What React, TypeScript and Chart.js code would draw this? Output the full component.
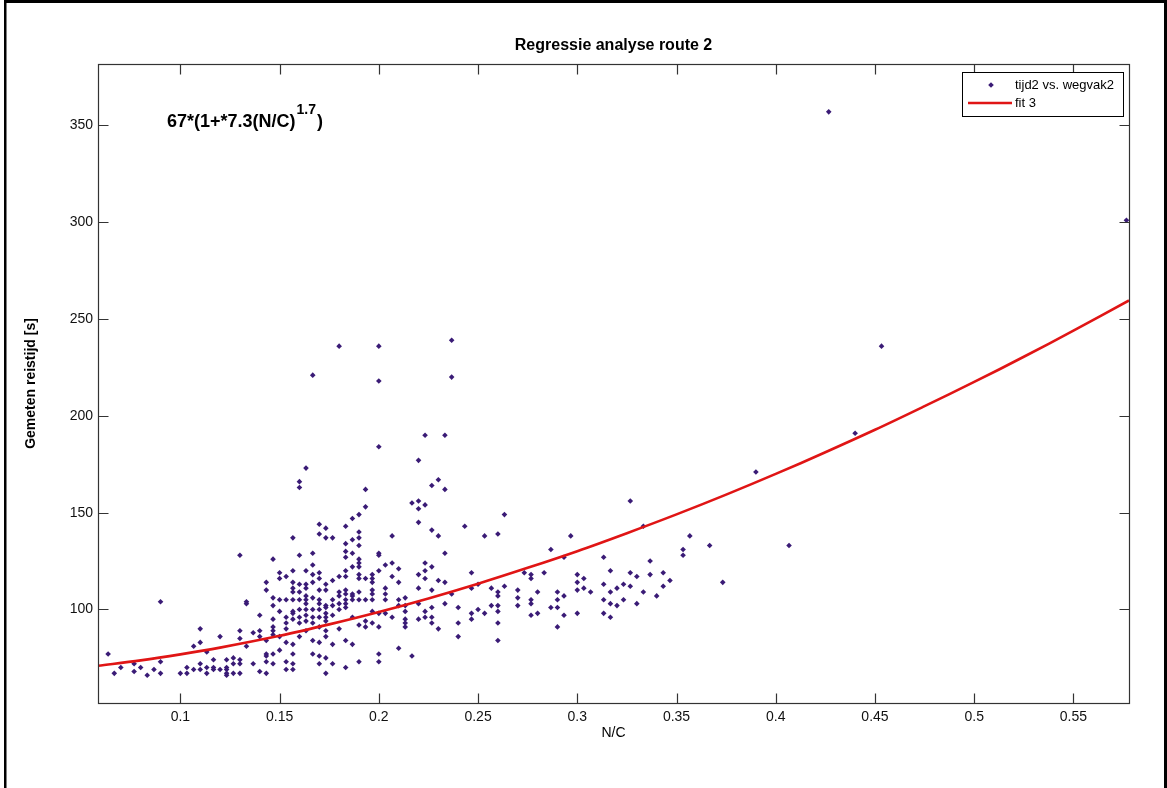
import React, { useEffect, useRef } from "react";
import { Chart, registerables } from "chart.js";

Chart.register(...registerables);

const FONT = '"Liberation Sans", Arial, Helvetica, sans-serif';

const TITLE = "Regressie analyse route 2";
const X_LABEL = "N/C";
const Y_LABEL = "Gemeten reistijd [s]";
const SERIES_LABEL = "tijd2 vs. wegvak2";
const FIT_LABEL = "fit 3";
const FORMULA_MAIN = "67*(1+*7.3(N/C)";
const FORMULA_EXP = "1.7";
const FORMULA_END = ")";

const X_MIN = 0.0585;
const X_MAX = 0.578;
const Y_MIN = 51.7;
const Y_MAX = 381.7;

const X_TICKS = [0.1, 0.15, 0.2, 0.25, 0.3, 0.35, 0.4, 0.45, 0.5, 0.55];
const X_TICK_LABELS = ["0.1", "0.15", "0.2", "0.25", "0.3", "0.35", "0.4", "0.45", "0.5", "0.55"];
const Y_TICKS = [100, 150, 200, 250, 300, 350];
const Y_TICK_LABELS = ["100", "150", "200", "250", "300", "350"];

// measured N/C values (columns) and the travel times measured at each of them
const NC_COLUMNS = [
  0.0636, 0.0667, 0.07, 0.0767, 0.08, 0.0833, 0.0867, 0.09, 0.1, 0.1033,
  0.1067, 0.11, 0.1133, 0.1167, 0.12, 0.1233, 0.1267, 0.13, 0.1333, 0.1367,
  0.14, 0.1433, 0.1467, 0.15, 0.1533, 0.1567, 0.16, 0.1633, 0.1667, 0.17,
  0.1733, 0.1767, 0.18, 0.1833, 0.1867, 0.19, 0.1933, 0.1967, 0.2, 0.2033,
  0.2067, 0.21, 0.2133, 0.2167, 0.22, 0.2233, 0.2267, 0.23, 0.2333, 0.2367,
  0.24, 0.2433, 0.2467, 0.25, 0.2533, 0.2567, 0.26, 0.2633, 0.27, 0.2733,
  0.2767, 0.28, 0.2833, 0.2867, 0.29, 0.2933, 0.2967, 0.3, 0.3033, 0.3067,
  0.3133, 0.3167, 0.32, 0.3233, 0.3267, 0.33, 0.3333, 0.3367, 0.34, 0.3433,
  0.3467, 0.3533, 0.3567, 0.3667, 0.3733, 0.39, 0.4067, 0.4267, 0.44, 0.4533,
  0.5767,
];

const TIJD_COLUMNS = [
  [77], [67], [70], [72, 68], [70], [66], [69], [104, 73, 67], [67], [70, 67],
  [81, 69], [90, 83, 72, 69], [78, 70, 67], [74, 70, 69], [86, 69], [74, 70, 69, 67, 66], [75, 72, 67], [128, 89, 85, 74, 72, 67], [104, 103, 81], [88, 72],
  [97, 89, 86, 68], [114, 110, 84, 77, 76, 73, 67], [126, 106, 102, 95, 91, 89, 87, 77, 72], [119, 116, 105, 99, 86, 79], [117, 105, 96, 93, 90, 83, 73, 69],
  [137, 120, 114, 111, 109, 105, 99, 98, 95, 82, 77, 72, 69],
  [166, 163, 128, 113, 109, 105, 100, 96, 93, 86],
  [173, 120, 113, 111, 107, 105, 103, 100, 97, 94, 89],
  [221, 129, 123, 118, 114, 106, 100, 96, 93, 84, 77],
  [144, 139, 119, 116, 110, 105, 103, 100, 96, 91, 83, 76, 72],
  [142, 137, 113, 110, 102, 101, 98, 96, 94, 89, 86, 75, 67],
  [137, 115, 105, 102, 97, 82, 72],
  [236, 117, 109, 107, 103, 100, 90],
  [143, 134, 130, 127, 120, 117, 110, 108, 105, 103, 101, 84, 70],
  [147, 136, 129, 122, 108, 107, 105, 96, 82],
  [149, 140, 137, 133, 126, 124, 122, 118, 116, 109, 105, 92, 73],
  [162, 153, 116, 105, 94, 91],
  [118, 116, 114, 110, 108, 105, 99, 93],
  [236, 218, 184, 129, 128, 120, 98, 91, 77, 73],
  [123, 111, 108, 105, 98],
  [138, 124, 117, 96],
  [121, 114, 105, 102, 80],
  [106, 102, 99, 95, 93, 91],
  [155, 76],
  [177, 156, 152, 145, 118, 111, 103, 95],
  [190, 154, 124, 120, 116, 99, 96],
  [164, 141, 122, 110, 101, 96, 93],
  [167, 138, 115, 90],
  [190, 162, 129, 114, 103],
  [239, 220, 108],
  [101, 93, 86], [143], [119, 111, 98, 95], [113, 100], [138, 98], [111, 102],
  [139, 109, 107, 102, 99, 93, 84], [149, 112], [110, 106, 102], [119],
  [118, 116, 105, 103, 97], [109, 98], [119], [131, 101], [109, 105, 101, 91],
  [127, 107, 97], [138], [118, 114, 110, 98], [116, 111], [109],
  [127, 113, 105, 98], [120, 109, 103, 96], [111, 102], [113, 105], [156, 119, 112],
  [117, 103], [143, 109], [125, 118], [107], [119, 112],
  [115], [131, 128], [138], [133], [114], [171], [133], [357], [191], [236],
  [301],
];

// fitted curve
const FIT_NC = [0.0585, 0.08, 0.1, 0.12, 0.15, 0.175, 0.2, 0.225, 0.25, 0.275, 0.3, 0.325, 0.35, 0.375, 0.4, 0.425, 0.45, 0.475, 0.5, 0.525, 0.55, 0.578];
const FIT_TIJD = [70.9, 73.7, 76.8, 80.3, 86.4, 92.3, 98.7, 105.7, 113.3, 121.5, 130.1, 139.4, 149.1, 159.3, 170.0, 181.2, 192.8, 205.0, 217.5, 230.5, 244.0, 259.6];

const POINT_COLOR = "#3a1b76";
const FIT_COLOR = "#e01515";
const AXIS_COLOR = "#333333";

const framePlugin = {
  id: "matlabFrame",
  beforeDraw(chart: any) {
    const ctx = chart.ctx;
    ctx.save();
    ctx.fillStyle = "#ffffff";
    ctx.fillRect(0, 0, chart.width, chart.height);
    ctx.restore();
  },
  afterDraw(chart: any) {
    const ctx = chart.ctx;
    const { left, right, top, bottom } = chart.chartArea;
    const xs = chart.scales.x;
    const ys = chart.scales.y;
    ctx.save();

    // axes box
    ctx.strokeStyle = AXIS_COLOR;
    ctx.lineWidth = 1.2;
    const L = Math.round(left) + 0.5;
    const R = Math.round(right) + 0.5;
    const T = Math.round(top) + 0.5;
    const B = Math.round(bottom) + 0.5;
    ctx.strokeRect(L, T, R - L, B - T);

    // inward ticks on all four sides
    const TL = 10;
    ctx.beginPath();
    X_TICKS.forEach((v) => {
      const px = Math.round(xs.getPixelForValue(v)) + 0.5;
      ctx.moveTo(px, B);
      ctx.lineTo(px, B - TL);
      ctx.moveTo(px, T);
      ctx.lineTo(px, T + TL);
    });
    Y_TICKS.forEach((v) => {
      const py = Math.round(ys.getPixelForValue(v)) + 0.5;
      ctx.moveTo(L, py);
      ctx.lineTo(L + TL, py);
      ctx.moveTo(R, py);
      ctx.lineTo(R - TL, py);
    });
    ctx.stroke();

    // title
    ctx.fillStyle = "#000000";
    ctx.font = `bold 16px ${FONT}`;
    ctx.textAlign = "center";
    ctx.textBaseline = "middle";
    ctx.fillText(TITLE, (left + right) / 2, 46);

    // formula annotation
    ctx.textAlign = "left";
    ctx.textBaseline = "alphabetic";
    let fx = 167;
    const fy = 127;
    ctx.font = `bold 18px ${FONT}`;
    ctx.fillText(FORMULA_MAIN, fx, fy);
    fx += ctx.measureText(FORMULA_MAIN).width + 1;
    ctx.font = `bold 14px ${FONT}`;
    ctx.fillText(FORMULA_EXP, fx, fy - 13);
    fx += ctx.measureText(FORMULA_EXP).width + 1;
    ctx.font = `bold 18px ${FONT}`;
    ctx.fillText(FORMULA_END, fx, fy);

    // legend
    const lx0 = 962.5, lx1 = 1123.5, ly0 = 72.5, ly1 = 116.5;
    ctx.fillStyle = "#ffffff";
    ctx.fillRect(lx0, ly0, lx1 - lx0, ly1 - ly0);
    ctx.strokeStyle = "#000000";
    ctx.lineWidth = 1;
    ctx.strokeRect(lx0, ly0, lx1 - lx0, ly1 - ly0);
    ctx.fillStyle = POINT_COLOR;
    ctx.beginPath();
    ctx.moveTo(991 - 2.8, 85);
    ctx.lineTo(991, 85 - 2.8);
    ctx.lineTo(991 + 2.8, 85);
    ctx.lineTo(991, 85 + 2.8);
    ctx.closePath();
    ctx.fill();
    ctx.strokeStyle = FIT_COLOR;
    ctx.lineWidth = 2.5;
    ctx.beginPath();
    ctx.moveTo(968, 103);
    ctx.lineTo(1012, 103);
    ctx.stroke();
    ctx.fillStyle = "#000000";
    ctx.font = `13px ${FONT}`;
    ctx.textBaseline = "middle";
    ctx.fillText(SERIES_LABEL, 1015, 85);
    ctx.fillText(FIT_LABEL, 1015, 103);

    // figure frame of the screenshot
    ctx.fillStyle = "#000000";
    ctx.fillRect(4, 0, chart.width - 4, 3);
    ctx.fillRect(4, 0, 2.5, chart.height);
    ctx.fillRect(chart.width - 3, 0, 3, chart.height);

    ctx.restore();
  },
};

export default function App() {
  const canvasRef = useRef<HTMLCanvasElement | null>(null);

  useEffect(() => {
    if (!canvasRef.current) return;
    const points: { x: number; y: number }[] = [];
    NC_COLUMNS.forEach((x, i) => {
      TIJD_COLUMNS[i].forEach((y) => points.push({ x, y }));
    });
    const fit = FIT_NC.map((x, i) => ({ x, y: FIT_TIJD[i] }));

    const chart = new Chart(canvasRef.current, {
      type: "scatter",
      data: {
        datasets: [
          {
            label: FIT_LABEL,
            data: fit,
            showLine: true,
            borderColor: FIT_COLOR,
            borderWidth: 2.6,
            pointRadius: 0,
            tension: 0.35,
            order: 0,
          } as any,
          {
            label: SERIES_LABEL,
            data: points,
            pointStyle: "rectRot",
            pointRadius: 2.8,
            pointBorderWidth: 0,
            backgroundColor: POINT_COLOR,
            borderColor: POINT_COLOR,
            order: 1,
          } as any,
        ],
      },
      options: {
        responsive: false,
        animation: false,
        events: [],
        layout: { padding: { left: 0, top: 64, right: 38, bottom: 0 } },
        plugins: {
          legend: { display: false },
          title: { display: false },
          tooltip: { enabled: false },
        },
        scales: {
          x: {
            type: "linear",
            min: X_MIN,
            max: X_MAX,
            grid: { display: false, drawTicks: false },
            border: { display: false },
            afterBuildTicks: (s: any) => {
              s.ticks = X_TICKS.map((v) => ({ value: v }));
            },
            afterFit: (s: any) => {
              s.height = 85;
            },
            ticks: {
              color: "#111111",
              font: { family: FONT, size: 14 },
              padding: 6,
              maxRotation: 0,
              autoSkip: false,
              callback: (_v: any, i: number) => X_TICK_LABELS[i],
            },
            title: {
              display: true,
              text: X_LABEL,
              color: "#000000",
              font: { family: FONT, size: 14 },
              padding: { top: 0, bottom: 46 },
            },
          },
          y: {
            type: "linear",
            min: Y_MIN,
            max: Y_MAX,
            grid: { display: false, drawTicks: false },
            border: { display: false },
            afterBuildTicks: (s: any) => {
              s.ticks = Y_TICKS.map((v) => ({ value: v }));
            },
            afterFit: (s: any) => {
              s.width = 98;
            },
            ticks: {
              color: "#111111",
              font: { family: FONT, size: 14 },
              padding: 5,
              autoSkip: false,
              callback: (_v: any, i: number) => Y_TICK_LABELS[i],
            },
            title: {
              display: true,
              text: Y_LABEL,
              color: "#000000",
              font: { family: FONT, size: 14, weight: "bold" },
              padding: { top: 23, bottom: 0 },
            },
          },
        },
      },
      plugins: [framePlugin],
    });
    return () => chart.destroy();
  }, []);

  return (
    <div
      style={{
        position: "fixed",
        left: 0,
        top: 0,
        width: 1167,
        height: 788,
        overflow: "hidden",
        background: "#ffffff",
      }}
    >
      <canvas ref={canvasRef} width={1167} height={788} style={{ display: "block" }} />
    </div>
  );
}
